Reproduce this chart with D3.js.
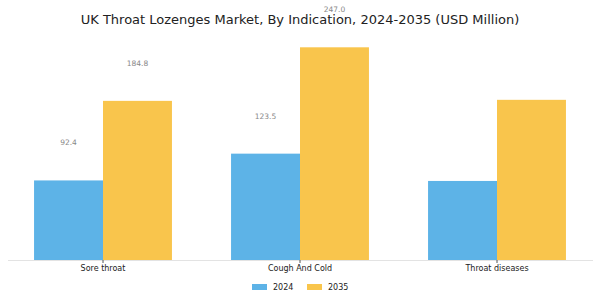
<!DOCTYPE html>
<html>
<head>
<meta charset="utf-8">
<script src="https://cdn.jsdelivr.net/npm/d3@7"></script>
<style>
  body { margin: 0; background: #fff; }
  svg { font-family: "DejaVu Sans", sans-serif; }
</style>
</head>
<body>
<svg id="chart" width="600" height="300"></svg>
<script>
var categories = ["Sore throat", "Cough And Cold", "Throat diseases"];
var years = ["2024", "2035"];
var values2024 = [92.4, 123.5, 91.8];
var values2035 = [184.8, 247.0, 186.0];
// the last group carries no value labels in the original
var showLabel = [true, true, false];
var colors = ["#5db3e7", "#f9c54c"];

var svg = d3.select("#chart");
var baseY = 260;

var x = d3.scaleBand()
    .domain(categories)
    .range([4.5, 595.5])
    .paddingInner(0)
    .paddingOuter(0);

var y = d3.scaleLinear()
    .domain([0, 247.0])
    .range([baseY, 47.3]);

var barW = x.bandwidth() * 0.35;

var rows = categories.map(function(c, i) {
    return {cat: c, vals: [values2024[i], values2035[i]], label: showLabel[i]};
});

svg.append("text")
    .attr("x", 300)
    .attr("y", 24)
    .attr("text-anchor", "middle")
    .style("font-size", "13px")
    .style("fill", "#222")
    .text("UK Throat Lozenges Market, By Indication, 2024-2035 (USD Million)");

var groups = svg.selectAll(".grp")
    .data(rows)
    .enter().append("g")
    .attr("class", "grp")
    .attr("transform", function(d) {
        return "translate(" + (x(d.cat) + x.bandwidth() / 2) + ",0)";
    });

groups.selectAll("rect")
    .data(function(d) { return d.vals.map(function(v, j) { return {v: v, j: j}; }); })
    .enter().append("rect")
    .attr("x", function(d) { return d.j === 0 ? -barW : 0; })
    .attr("y", function(d) { return y(d.v); })
    .attr("width", barW)
    .attr("height", function(d) { return baseY - y(d.v); })
    .attr("fill", function(d) { return colors[d.j]; });

groups.filter(function(d) { return d.label; })
    .selectAll(".lbl")
    .data(function(d) { return d.vals.map(function(v, j) { return {v: v, j: j}; }); })
    .enter().append("text")
    .attr("class", "lbl")
    .attr("x", function(d) { return d.j === 0 ? -barW / 2 : barW / 2; })
    .attr("y", function(d) { return y(d.v) - 35; })
    .attr("text-anchor", "middle")
    .style("font-size", "7.5px")
    .style("fill", "#888")
    .text(function(d) { return d.v.toFixed(1); });

svg.append("line")
    .attr("x1", 8)
    .attr("x2", 593)
    .attr("y1", baseY + 0.5)
    .attr("y2", baseY + 0.5)
    .attr("stroke", "#e3e3e3")
    .attr("stroke-width", 1);

var xAxis = svg.append("g")
    .attr("transform", "translate(0," + baseY + ")")
    .call(d3.axisBottom(x).tickSize(3).tickPadding(2));
xAxis.select(".domain").remove();
xAxis.selectAll(".tick line").attr("stroke", "#555");
xAxis.selectAll(".tick text")
    .style("font-size", "8px")
    .style("font-family", "DejaVu Sans, sans-serif")
    .style("fill", "#222");

var legend = svg.append("g")
    .attr("transform", "translate(252,287)");
var legX = [0, 55];
years.forEach(function(yr, i) {
    legend.append("rect")
        .attr("x", legX[i])
        .attr("y", -3)
        .attr("width", 15)
        .attr("height", 6)
        .attr("fill", colors[i]);
    legend.append("text")
        .attr("x", legX[i] + 21)
        .attr("y", 3)
        .style("font-size", "8px")
        .style("fill", "#222")
        .text(yr);
});
</script>
</body>
</html>
